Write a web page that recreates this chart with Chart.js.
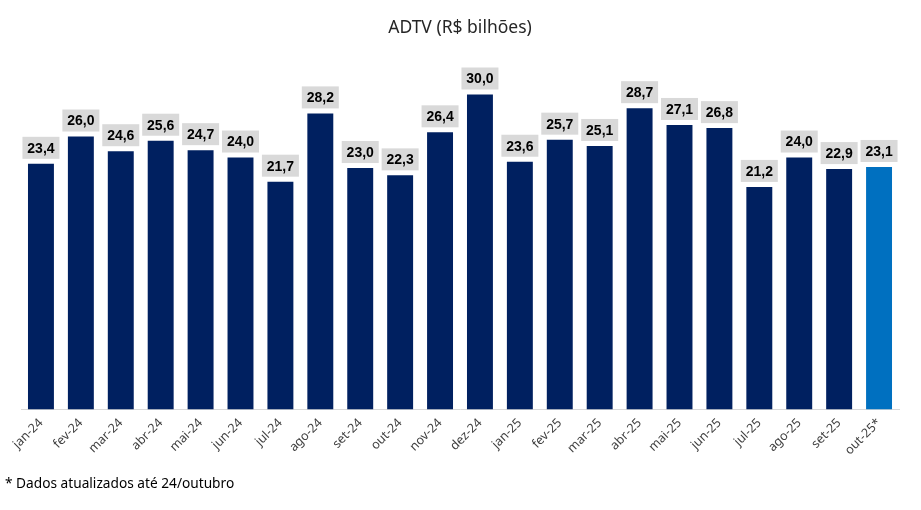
<!DOCTYPE html>
<html>
<head>
<meta charset="utf-8">
<script src="https://cdn.jsdelivr.net/npm/chart.js@4/dist/chart.umd.min.js"></script>
<style>
  body { margin: 0; background: #fff; }
  #wrap { position: relative; width: 921px; height: 510px; }
  #note { position: absolute; left: 5px; top: 473px; font: 13.7px "Noto Sans", sans-serif; color: #000; }
</style>
</head>
<body>
<div id="wrap">
  <canvas id="adtvChart" width="921" height="510"></canvas>
  <div id="note">* Dados atualizados até 24/outubro</div>
</div>
<script>
"use strict";

const months = ["jan-24", "fev-24", "mar-24", "abr-24", "mai-24", "jun-24", "jul-24", "ago-24", "set-24", "out-24", "nov-24", "dez-24",
  "jan-25", "fev-25", "mar-25", "abr-25", "mai-25", "jun-25", "jul-25", "ago-25", "set-25", "out-25*"];
const adtv = [23.4, 26.0, 24.6, 25.6, 24.7, 24.0, 21.7, 28.2, 23.0, 22.3, 26.4, 30.0,
  23.6, 25.7, 25.1, 28.7, 27.1, 26.8, 21.2, 24.0, 22.9, 23.1];

const navy = "#002060";
const lightBlue = "#0070c0";
const barColors = [];
for (let i = 0; i < adtv.length; i++) {
  barColors.push(i === adtv.length - 1 ? lightBlue : navy);
}

// labels in grey boxes above bars
const boxLabels = {
  id: "boxLabels",
  afterDatasetsDraw(chart) {
    const ctx = chart.ctx;
    const meta = chart.getDatasetMeta(0);
    ctx.save();
    ctx.font = "bold 14px 'Liberation Sans', Arial, sans-serif";
    ctx.textAlign = "center";
    ctx.textBaseline = "middle";
    meta.data.forEach(function (bar, i) {
      const txt = adtv[i].toFixed(1).replace(".", ",");
      const w = 37, h = 22;
      const cy = bar.y - 5 - h / 2;
      ctx.fillStyle = "#d9d9d9";
      ctx.fillRect(bar.x - w / 2, cy - h / 2, w, h);
      ctx.fillStyle = "#000";
      ctx.fillText(txt, bar.x, cy + 1);
    });
    ctx.restore();
  }
};

new Chart(document.getElementById("adtvChart"), {
  type: "bar",
  data: {
    labels: months,
    datasets: [{
      data: adtv,
      backgroundColor: barColors,
      categoryPercentage: 0.65,
      barPercentage: 1.0
    }]
  },
  options: {
    responsive: false,
    animation: false,
    layout: { padding: { left: 21, right: 22, top: 0, bottom: 46 } },
    plugins: {
      legend: { display: false },
      tooltip: { enabled: false },
      title: {
        display: true,
        text: "ADTV (R$ bilhões)",
        color: "#262626",
        font: { family: "'Noto Sans', sans-serif", size: 17.5, weight: "normal" },
        padding: { top: 18, bottom: 3 }
      }
    },
    scales: {
      x: {
        grid: { display: false, drawTicks: false },
        border: { color: "#d9d9d9", width: 1 },
        ticks: {
          color: "#404040",
          font: { family: "'Noto Sans', sans-serif", size: 12.5 },
          minRotation: 45,
          maxRotation: 45,
          padding: 6
        }
      },
      y: {
        display: false,
        min: 0,
        max: 35
      }
    }
  },
  plugins: [boxLabels]
});
</script>
</body>
</html>
